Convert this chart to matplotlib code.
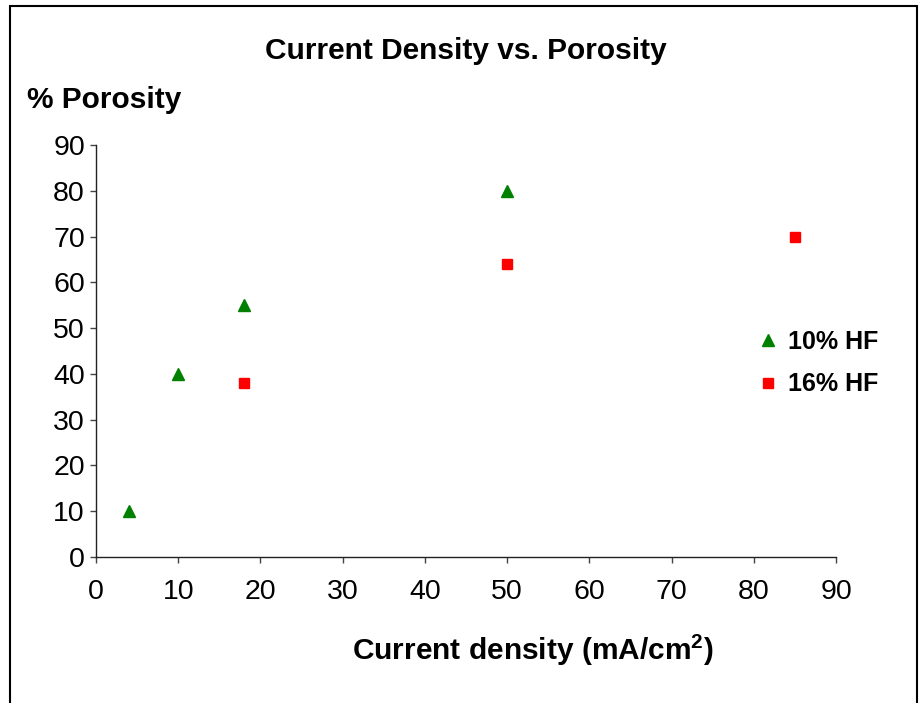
import matplotlib
matplotlib.use("Agg")
import matplotlib.pyplot as plt
from matplotlib.patches import Rectangle

# data
hf10_x = [4, 10, 18, 50]
hf10_y = [10, 40, 55, 80]
hf16_x = [18, 50, 85]
hf16_y = [38, 64, 70]
ticks = list(range(0, 91, 10))

plt.rcParams["font.family"] = ["Liberation Sans", "DejaVu Sans"]
plt.rcParams["mathtext.fontset"] = "custom"
plt.rcParams["mathtext.rm"] = "Liberation Sans"
plt.rcParams["mathtext.bf"] = "Liberation Sans:bold"

fig = plt.figure(figsize=(9.19, 7.03), dpi=100)
ax = fig.add_axes([96 / 919, 146 / 703, 740 / 919, 412 / 703])

ax.plot(hf10_x, hf10_y, linestyle="none", marker="^", color="#008000",
        markersize=9, label="10% HF", clip_on=False)
ax.plot(hf16_x, hf16_y, linestyle="none", marker="s", color="#ff0000",
        markersize=7.5, label="16% HF", clip_on=False)

ax.set_xlim(0, 90)
ax.set_ylim(0, 90)
ax.set_xticks(ticks)
ax.set_yticks(ticks)
for s in ["top", "right"]:
    ax.spines[s].set_visible(False)
for s in ["left", "bottom"]:
    ax.spines[s].set_color("#222222")
    ax.spines[s].set_linewidth(1.0)
ax.tick_params(axis="both", direction="out", length=4, width=1.0,
               color="#444444", labelsize=20.5)
ax.tick_params(axis="x", pad=12)
ax.tick_params(axis="y", pad=4)

fig.text(466 / 919, 1 - 51 / 703, "Current Density vs. Porosity",
         ha="center", va="center", fontsize=21.5, fontweight="bold")
fig.text(27 / 919, 1 - 100 / 703, "% Porosity",
         ha="left", va="center", fontsize=21.5, fontweight="bold")
fig.text(533 / 919, 1 - 650 / 703, r"Current density (mA/cm$^{\mathbf{2}}$)",
         ha="center", va="center", fontsize=21.5, fontweight="bold")

leg = ax.legend(loc="center left", bbox_to_anchor=(755 / 919, 1 - 363 / 703),
                bbox_transform=fig.transFigure, frameon=False, fontsize=18,
                handlelength=1.0, handletextpad=0.3, labelspacing=0.75,
                borderpad=0, borderaxespad=0)
for t in leg.get_texts():
    t.set_fontweight("bold")

# outer chart border, cut off at the bottom like the original
fig.patches.append(Rectangle((10 / 919, -0.1), 907 / 919, 1.1 - 6 / 703,
                             transform=fig.transFigure, fill=False,
                             edgecolor="black", linewidth=1.5))

fig.savefig("out.png", dpi=100)
